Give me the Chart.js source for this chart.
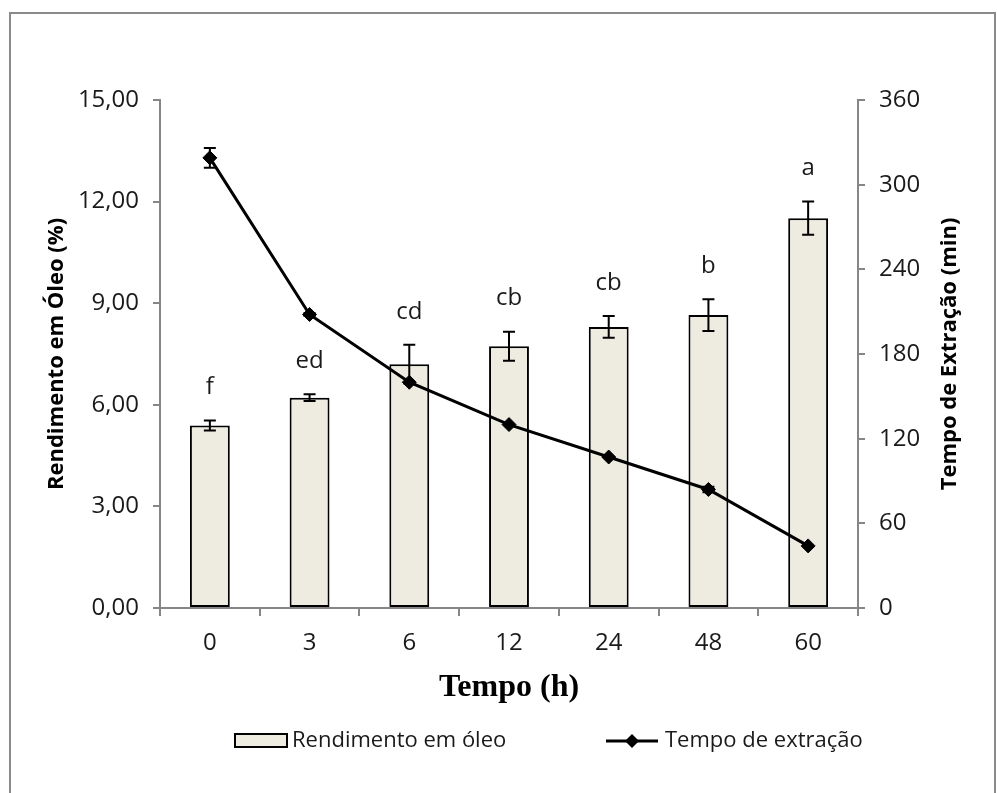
<!DOCTYPE html>
<html>
<head>
<meta charset="utf-8">
<script src="https://cdn.jsdelivr.net/npm/chart.js@4.4.0/dist/chart.umd.min.js"></script>
<style>
    html, body { margin: 0; padding: 0; background: #fff; }
</style>
</head>
<body>
<canvas id="myChart" width="997" height="793"></canvas>
<script>
// dados
const categories = ['0', '3', '6', '12', '24', '48', '60'];
const rendimento = [5.39, 6.21, 7.20, 7.73, 8.30, 8.65, 11.51];
const rendimentoErr = [0.15, 0.10, 0.57, 0.43, 0.32, 0.47, 0.49];
const tempoExtracao = [319, 208, 160, 130, 107, 84, 44];
const tempoErr = [7, 1, 0, 0, 0, 2, 0];
const letters = ['f', 'ed', 'cd', 'cb', 'cb', 'b', 'a'];
const leftTicks = [0, 3, 6, 9, 12, 15];
const rightTicks = [0, 60, 120, 180, 240, 300, 360];

const FONT = 'Open Sans';
const AXIS_GRAY = '#868686';
const TEXT = '#1a1a1a';

// barras de erro, letras, título da direita, legenda e moldura
const extras = {
    id: 'extras',
    afterDatasetDraw(chart, args) {
        const ctx = chart.ctx;
        const x = chart.scales.x;
        let yScale, vals, errs;
        if (args.index === 0) { yScale = chart.scales.y; vals = rendimento; errs = rendimentoErr; }
        else { yScale = chart.scales.y1; vals = tempoExtracao; errs = tempoErr; }
        ctx.save();
        ctx.strokeStyle = '#000';
        ctx.lineWidth = 2;
        vals.forEach((v, i) => {
            if (!errs[i]) return;
            const px = x.getPixelForValue(i);
            const top = yScale.getPixelForValue(v + errs[i]);
            const bot = yScale.getPixelForValue(v - errs[i]);
            ctx.beginPath();
            ctx.moveTo(px, top); ctx.lineTo(px, bot);
            ctx.moveTo(px - 6, top); ctx.lineTo(px + 6, top);
            ctx.moveTo(px - 6, bot); ctx.lineTo(px + 6, bot);
            ctx.stroke();
        });
        ctx.restore();
    },
    afterDraw(chart) {
        const ctx = chart.ctx;
        const x = chart.scales.x, y = chart.scales.y;
        ctx.save();
        // letras de significância
        ctx.font = '24px "' + FONT + '"';
        ctx.fillStyle = TEXT;
        ctx.textAlign = 'center';
        ctx.textBaseline = 'middle';
        letters.forEach((l, i) => {
            const py = y.getPixelForValue(rendimento[i] + rendimentoErr[i]) - 33;
            ctx.fillText(l, x.getPixelForValue(i), py);
        });

        // título do eixo direito (lido de baixo para cima)
        const y1 = chart.scales.y1;
        ctx.save();
        ctx.translate(950, (y1.top + y1.bottom) / 2);
        ctx.rotate(-Math.PI / 2);
        ctx.font = 'bold 22px "' + FONT + '"';
        ctx.fillStyle = '#000';
        ctx.fillText('Tempo de Extração (min)', 0, 0);
        ctx.restore();

        // legenda
        const ds = chart.data.datasets;
        const ly = 741;
        ctx.font = '22px "' + FONT + '"';
        ctx.textAlign = 'left';
        let lx = 235;
        ctx.fillStyle = ds[0].backgroundColor;
        ctx.fillRect(lx, ly - 7, 52, 13);
        ctx.strokeStyle = '#000';
        ctx.lineWidth = 2;
        ctx.strokeRect(lx, ly - 7, 52, 13);
        ctx.fillStyle = TEXT;
        ctx.fillText(ds[0].label, lx + 57, ly);

        lx = 606;
        ctx.beginPath();
        ctx.moveTo(lx, ly); ctx.lineTo(lx + 52, ly);
        ctx.lineWidth = 3;
        ctx.stroke();
        ctx.beginPath();
        ctx.moveTo(lx + 26 - 7, ly); ctx.lineTo(lx + 26, ly - 7);
        ctx.lineTo(lx + 33, ly); ctx.lineTo(lx + 26, ly + 7);
        ctx.closePath();
        ctx.fillStyle = '#000';
        ctx.fill();
        ctx.fillStyle = TEXT;
        ctx.fillText(ds[1].label, lx + 59, ly);

        // moldura
        ctx.strokeStyle = '#8a8a8a';
        ctx.lineWidth = 2;
        ctx.strokeRect(10, 13, 985, 800);
        ctx.restore();
    }
};

const ctx = document.getElementById('myChart').getContext('2d');

const myChart = new Chart(ctx, {
    data: {
        labels: categories,
        datasets: [{
            type: 'bar',
            label: 'Rendimento em óleo',
            data: rendimento,
            yAxisID: 'y',
            backgroundColor: '#EEECE1',
            borderColor: '#000',
            borderWidth: 2,
            borderSkipped: false,
            barPercentage: 0.4,
            categoryPercentage: 1,
            order: 1
        }, {
            type: 'line',
            label: 'Tempo de extração',
            data: tempoExtracao,
            yAxisID: 'y1',
            borderColor: '#000',
            borderWidth: 3,
            pointStyle: 'rectRot',
            pointRadius: 7,
            pointBorderWidth: 1,
            pointBackgroundColor: '#000',
            pointBorderColor: '#000',
            tension: 0,
            order: 0
        }]
    },
    options: {
        responsive: false,
        animation: false,
        layout: { padding: { top: 100, left: 0, right: 0, bottom: 0 } },
        plugins: {
            legend: { display: false },
            tooltip: { enabled: false }
        },
        scales: {
            x: {
                offset: true,
                grid: {
                    offset: true,
                    drawOnChartArea: false,
                    tickLength: 8,
                    color: AXIS_GRAY,
                    lineWidth: 2
                },
                border: { color: AXIS_GRAY, width: 2 },
                ticks: { font: { family: FONT, size: 24 }, color: TEXT, padding: 13 },
                title: {
                    display: true,
                    text: 'Tempo (h)',
                    color: '#000',
                    font: { family: 'Liberation Serif', size: 32, weight: 'bold' },
                    padding: { top: 0, bottom: 86 }
                },
                afterFit: s => { s.height = 185; }
            },
            y: {
                position: 'left',
                min: 0,
                max: 15,
                afterBuildTicks: s => { s.ticks = leftTicks.map(v => ({ value: v })); },
                grid: {
                    drawOnChartArea: false,
                    tickLength: 7,
                    color: AXIS_GRAY,
                    lineWidth: 2
                },
                border: { color: AXIS_GRAY, width: 2 },
                ticks: {
                    font: { family: FONT, size: 24 },
                    color: TEXT,
                    padding: 14,
                    callback: v => v.toFixed(2).replace('.', ',')
                },
                title: {
                    display: true,
                    text: 'Rendimento em Óleo (%)',
                    color: '#000',
                    font: { family: FONT, size: 22, weight: 'bold' },
                    padding: { top: 44, bottom: 0 }
                },
                afterFit: s => { s.width = 160; }
            },
            y1: {
                position: 'right',
                min: 0,
                max: 360,
                afterBuildTicks: s => { s.ticks = rightTicks.map(v => ({ value: v })); },
                grid: {
                    drawOnChartArea: false,
                    tickLength: 7,
                    color: AXIS_GRAY,
                    lineWidth: 2
                },
                border: { color: AXIS_GRAY, width: 2 },
                ticks: { font: { family: FONT, size: 24 }, color: TEXT, padding: 14 },
                afterFit: s => { s.width = 139; }
            }
        }
    },
    plugins: [extras]
});
</script>
</body>
</html>
